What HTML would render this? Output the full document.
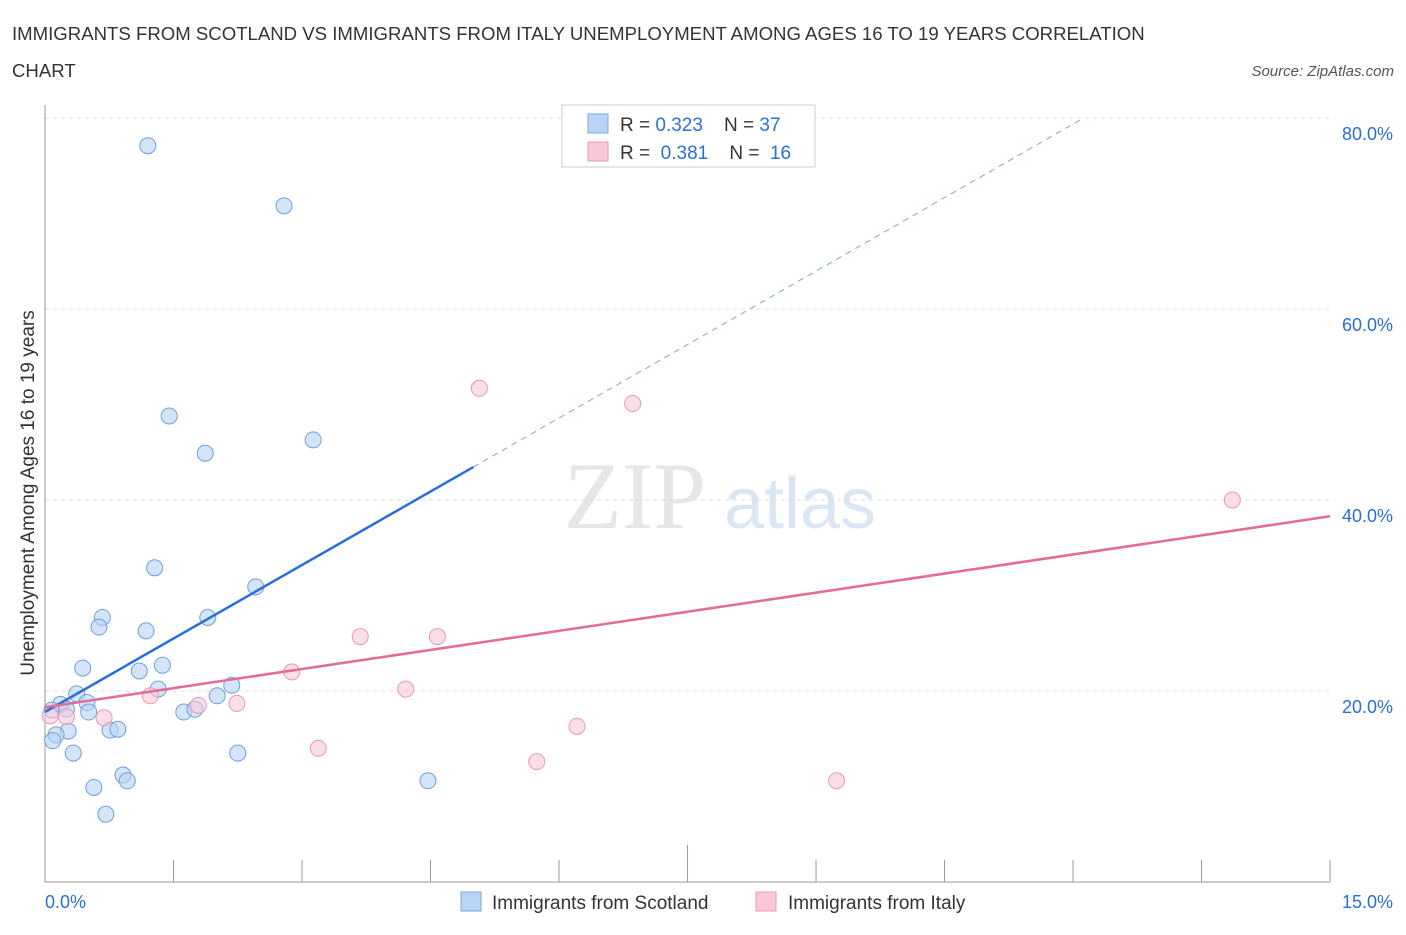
<!DOCTYPE html>
<html><head><meta charset="utf-8"><style>
body{margin:0;background:#fff;font-family:"Liberation Sans",sans-serif;}
</style></head><body>
<svg width="1406" height="930" xmlns="http://www.w3.org/2000/svg" id="chart">
<text x="12" y="40" font-size="18.6" fill="#333">IMMIGRANTS FROM SCOTLAND VS IMMIGRANTS FROM ITALY UNEMPLOYMENT AMONG AGES 16 TO 19 YEARS CORRELATION</text>
<text x="12" y="77" font-size="18.6" fill="#333">CHART</text>
<text x="1394" y="76" font-size="15" fill="#555" font-style="italic" text-anchor="end">Source: ZipAtlas.com</text>
<text x="635" y="528" font-size="95" fill="#e6e6e6" font-family="Liberation Serif" text-anchor="middle">ZIP</text>
<text x="800" y="528" font-size="72" fill="#dbe6f5" text-anchor="middle">atlas</text>
<text x="34" y="493" font-size="19" fill="#333" text-anchor="middle" transform="rotate(-90 34 493)">Unemployment Among Ages 16 to 19 years</text>
<g id="grid"></g><g id="marks"></g>
<g>
<rect x="562" y="105" width="253" height="62" fill="#fff" stroke="#ccc"/>
<rect x="588" y="114" width="20" height="19" fill="#b9d3f5" stroke="#7aa7e0"/>
<text x="620" y="131" font-size="19" fill="#333" xml:space="preserve">R = <tspan fill="#2a6fd6">0.323</tspan>    N = <tspan fill="#2a6fd6">37</tspan></text>
<rect x="588" y="142" width="20" height="19" fill="#f8c8d8" stroke="#e897b3"/>
<text x="620" y="159" font-size="19" fill="#333" xml:space="preserve">R =  <tspan fill="#2a6fd6">0.381</tspan>    N =  <tspan fill="#2a6fd6">16</tspan></text>
</g>
<g>
<rect x="461" y="892" width="20" height="19" fill="#b9d3f5" stroke="#7aa7e0"/>
<text x="492" y="909" font-size="19" fill="#333">Immigrants from Scotland</text>
<rect x="756" y="892" width="20" height="19" fill="#f8c8d8" stroke="#e897b3"/>
<text x="788" y="909" font-size="19" fill="#333">Immigrants from Italy</text>
</g>
<text x="45" y="908" font-size="18" fill="#2a6fd6">0.0%</text>
<text x="1393" y="908" font-size="18" fill="#2a6fd6" text-anchor="end">15.0%</text>
</svg>
<script>
const yTicks=[20,40,60,80];
const xTicks=[0,1.5,3,4.5,6,7.5,9,10.5,12,13.5,15];
const scotX=[1.20,2.79,1.45,3.13,1.87,1.28,2.46,0.67,1.90,0.63,1.18,0.44,1.37,1.10,1.32,2.18,2.01,0.37,0.18,0.49,0.08,0.25,0.51,1.62,1.75,0.76,0.85,0.27,0.13,0.09,0.33,2.25,0.91,0.96,0.57,4.47,0.71];
const scotY=[77.1,70.8,48.8,46.3,44.9,32.9,30.9,27.7,27.7,26.7,26.3,22.4,22.7,22.1,20.2,20.6,19.5,19.7,18.6,18.8,18.0,18.1,17.8,17.8,18.1,15.9,16.0,15.8,15.4,14.8,13.5,13.5,11.2,10.6,9.9,10.6,7.1];
const italyX=[5.07,6.86,13.86,3.68,4.58,2.88,4.21,1.23,2.24,1.79,0.06,0.25,0.69,3.19,6.21,5.74,9.24];
const italyY=[51.7,50.1,40.0,25.7,25.7,22.0,20.2,19.5,18.7,18.5,17.4,17.3,17.2,14.0,16.3,12.6,10.6];
const scotTrend=[17.8,5.13];
const italyTrend=[18.3,1.333];
const X=v=>45+v*85.67, Y=v=>882-v*9.55;
const NS="http://www.w3.org/2000/svg";
const grid=document.getElementById('grid'), marks=document.getElementById('marks');
function mk(tag,attrs,parent){const e=document.createElementNS(NS,tag);for(const k in attrs)e.setAttribute(k,attrs[k]);parent.appendChild(e);return e;}
yTicks.forEach(t=>{
 const l=mk('line',{x1:45,x2:1330,y1:Y(t),y2:Y(t),stroke:'#ddd','stroke-dasharray':'4,4'},grid);
 
 
 const tx=mk('text',{x:1393,y:Y(t)+22,'font-size':18,fill:'#2a6fd6','text-anchor':'end'},grid);
 tx.textContent=t.toFixed(1)+'%';
 
 
});
mk('line',{x1:45,x2:45,y1:105,y2:882,stroke:'#999'},grid);
mk('line',{x1:45,x2:1330,y1:882,y2:882,stroke:'#999'},grid);
xTicks.forEach((t,i)=>{
 const l=mk('line',{x1:X(t),x2:X(t),y1:882,y2:i==5?845:860,stroke:'#999'},grid);
 
 
});
scotX.forEach((x,i)=>{
 const c=mk('circle',{cx:X(x),cy:Y(scotY[i]),r:8,fill:'rgba(185,211,245,0.6)',stroke:'#6e9fdc','stroke-width':1},marks);
 
 
});
italyX.forEach((x,i)=>{
 const c=mk('circle',{cx:X(x),cy:Y(italyY[i]),r:8,fill:'rgba(248,200,216,0.6)',stroke:'#e897b3','stroke-width':1},marks);
 
 
});
const sl=mk('line',{x1:X(0),y1:Y(scotTrend[0]),x2:X(5),y2:Y(scotTrend[0]+5*scotTrend[1]),stroke:'#2a6fd6','stroke-width':2.5},marks);


const sd=mk('line',{x1:X(5),y1:Y(scotTrend[0]+5*scotTrend[1]),x2:X(12.08),y2:Y(scotTrend[0]+12.08*scotTrend[1]),stroke:'#7aa7e0','stroke-width':1,'stroke-dasharray':'6,5'},marks);


const il=mk('line',{x1:X(0),y1:Y(italyTrend[0]),x2:X(15),y2:Y(italyTrend[0]+15*italyTrend[1]),stroke:'#e46b98','stroke-width':2.5},marks);


</script>
</body></html>
